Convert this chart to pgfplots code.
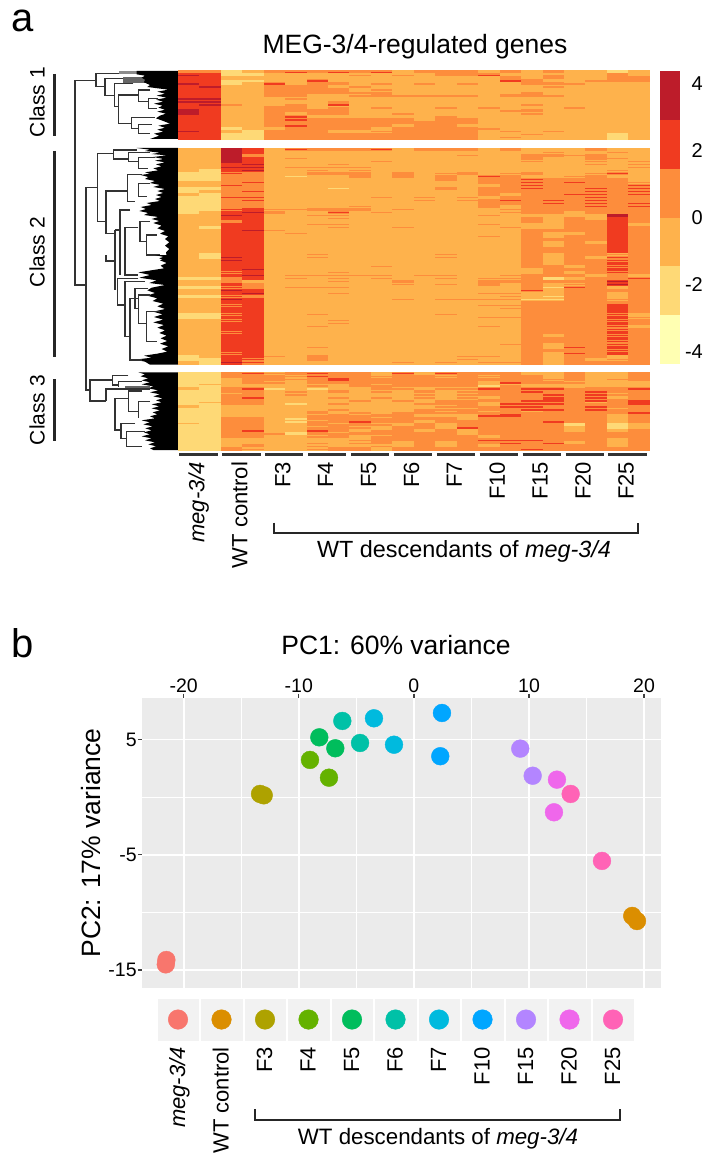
\documentclass[border=0pt]{standalone}
\usepackage{pgfplots}
\usepackage{pgfplotstable}
\usepackage{fontspec}
\setmainfont{Liberation Sans}
\pgfplotsset{compat=1.18}
\newcommand\fs[1]{\fontsize{#1}{#1}\selectfont}
\definecolor{c1}{HTML}{FFFFB2}\definecolor{c2}{HTML}{FED976}\definecolor{c3}{HTML}{FEB24C}
\definecolor{c4}{HTML}{FD8D3C}\definecolor{c5}{HTML}{F03B20}\definecolor{c6}{HTML}{BD1C2A}
\definecolor{h1}{HTML}{F8766D}\definecolor{h2}{HTML}{DB8E00}\definecolor{h3}{HTML}{AEA200}
\definecolor{h4}{HTML}{64B200}\definecolor{h5}{HTML}{00BD5C}\definecolor{h6}{HTML}{00C1A7}
\definecolor{h7}{HTML}{00BADE}\definecolor{h8}{HTML}{00A6FF}\definecolor{h9}{HTML}{B385FF}
\definecolor{h10}{HTML}{EF67EB}\definecolor{h11}{HTML}{FF63B6}
\pgfdeclareplotmark{cell}{\pgfpathrectangle{\pgfpoint{-10.9pt}{-1.7pt}}{\pgfpoint{21.8pt}{3.4pt}}\pgfusepathqfill}
\pgfdeclareplotmark{s0}{\pgfpathrectangle{\pgfpoint{-10.9pt}{-1.7pt}}{\pgfpoint{21.8pt}{3.4pt}}\pgfusepathqfill\pgfsetfillcolor{c4}\pgfpathrectangle{\pgfpoint{-10.9pt}{-0.65pt}}{\pgfpoint{21.8pt}{1.3pt}}\pgfusepathqfill}
\pgfdeclareplotmark{s7}{\pgfpathrectangle{\pgfpoint{-10.9pt}{-1.7pt}}{\pgfpoint{21.8pt}{3.4pt}}\pgfusepathqfill\pgfsetfillcolor{c5}\pgfpathrectangle{\pgfpoint{-10.9pt}{-0.65pt}}{\pgfpoint{21.8pt}{1.3pt}}\pgfusepathqfill}
\pgfdeclareplotmark{s8}{\pgfpathrectangle{\pgfpoint{-10.9pt}{-1.7pt}}{\pgfpoint{21.8pt}{3.4pt}}\pgfusepathqfill\pgfsetfillcolor{c2}\pgfpathrectangle{\pgfpoint{-10.9pt}{-0.65pt}}{\pgfpoint{21.8pt}{1.3pt}}\pgfusepathqfill}
\pgfdeclareplotmark{s9}{\pgfpathrectangle{\pgfpoint{-10.9pt}{-1.7pt}}{\pgfpoint{21.8pt}{3.4pt}}\pgfusepathqfill\pgfsetfillcolor{c6}\pgfpathrectangle{\pgfpoint{-10.9pt}{-0.65pt}}{\pgfpoint{21.8pt}{1.3pt}}\pgfusepathqfill}
% heat levels: 1..6 = the six bands of the colour bar, lowest to highest;
% 0, 7, 8, 9 = cells at level 3, 4, 3, 5 crossed by a thin stripe of level 4, 5, 2, 6
\pgfplotstableread[header=false]{
4 4 2 3 4 7 4 7 4 7 3 4 4 4 3 4 3 4 3 3 2 3
9 5 2 2 3 3 3 3 0 3 0 3 4 4 7 3 3 0 3 3 4 3
5 5 3 3 3 3 3 3 3 3 3 3 3 3 3 4 3 4 3 3 4 4
5 5 8 8 3 3 7 3 3 3 3 3 3 3 3 7 4 3 3 0 4 4
9 5 2 3 7 3 4 4 3 0 3 0 3 0 3 3 4 4 0 3 3 3
5 9 3 3 4 4 4 3 0 3 3 3 3 3 3 3 3 0 3 3 3 3
5 5 3 3 4 4 4 4 3 0 3 3 3 3 3 3 3 3 3 3 3 3
5 5 3 3 4 4 4 4 0 0 3 3 3 3 3 3 0 3 3 3 3 3
5 5 3 3 4 4 3 3 0 4 0 0 0 0 3 4 4 0 3 3 3 3
9 9 3 3 3 0 3 3 3 3 3 3 3 3 3 3 3 3 3 3 3 3
9 9 3 3 3 3 3 0 3 3 3 3 3 3 3 3 3 3 3 3 3 3
5 9 0 3 3 0 3 7 3 3 3 3 3 3 3 3 0 3 3 3 3 3
5 5 3 3 4 4 3 0 3 0 3 3 0 3 0 3 3 3 0 3 3 3
6 5 3 3 4 4 4 4 3 3 3 3 3 3 3 0 4 3 3 3 3 3
6 5 3 3 4 3 4 4 3 3 0 3 3 3 3 3 0 3 3 3 3 3
5 5 3 3 4 7 3 3 3 3 3 3 0 3 3 3 3 3 3 3 3 3
5 5 3 3 4 7 4 4 4 4 4 3 4 4 3 3 3 3 3 3 3 3
5 5 3 3 4 4 4 4 4 4 4 4 4 4 3 3 3 3 3 3 3 3
5 5 3 3 4 7 4 4 4 4 3 4 4 3 3 3 3 3 3 3 3 3
5 5 2 3 3 4 4 4 4 3 4 4 4 4 0 3 3 3 3 3 3 3
9 5 3 2 4 4 4 3 3 0 4 4 4 4 3 0 3 0 3 3 3 3
5 5 2 2 4 4 4 4 4 4 4 4 4 4 3 3 0 3 3 3 2 3
5 5 2 2 4 4 4 4 4 4 4 4 4 4 3 0 3 3 3 3 2 3
}\heatA
\pgfplotstableread[header=false]{
3 3 6 5 3 7 4 4 4 7 3 4 4 4 3 4 3 3 3 4 3 3
3 3 6 5 3 3 3 3 3 3 3 3 3 3 3 3 3 0 3 3 0 3
3 3 6 4 3 3 3 3 3 3 3 3 3 0 3 3 4 4 0 4 3 3
3 3 6 5 3 0 3 3 3 3 3 3 3 3 3 3 4 3 3 4 0 3
3 3 6 5 3 3 3 3 3 0 3 3 3 3 3 3 0 3 3 0 3 0
3 3 5 9 3 3 3 0 3 3 3 3 3 3 3 3 3 3 3 0 3 0
3 3 9 9 3 0 0 0 0 3 3 3 3 3 3 3 3 3 3 3 3 0
3 2 5 9 3 3 0 3 0 3 3 3 3 3 3 3 3 3 3 3 0 3
2 2 7 4 3 3 4 4 4 3 4 3 0 4 3 0 4 3 3 0 7 3
2 2 4 4 3 8 3 3 4 3 4 3 4 3 7 4 3 3 0 4 3 3
2 2 4 4 3 3 3 3 3 3 3 3 4 3 4 4 7 4 4 4 4 3
3 3 4 7 3 3 3 3 3 3 3 3 3 3 4 4 7 4 7 4 4 0
3 3 7 4 3 3 3 3 3 3 3 3 3 3 3 4 7 4 4 4 4 7
2 2 4 4 3 3 3 8 3 3 3 3 4 3 4 4 7 4 4 7 4 7
2 3 4 7 3 3 3 3 3 3 3 3 3 3 4 4 4 4 4 7 4 7
3 2 4 4 3 3 3 3 3 3 3 3 3 3 4 3 4 4 7 7 4 7
2 2 7 7 3 3 3 3 3 0 3 0 3 0 3 4 4 4 4 7 4 4
2 2 4 7 3 3 3 3 3 3 3 0 3 0 4 7 4 7 4 7 4 4
2 2 4 4 3 3 3 3 3 3 3 3 3 3 4 4 4 7 4 7 4 7
2 2 4 4 3 3 3 3 0 3 3 3 3 3 4 3 4 4 4 7 4 7
2 2 7 5 0 0 4 4 4 3 0 3 3 3 3 0 4 4 4 4 4 4
2 3 5 9 4 3 3 7 3 0 3 3 3 3 3 0 4 4 3 4 4 4
3 3 9 5 3 3 0 0 3 3 3 3 3 3 0 3 3 3 3 3 6 4
3 3 5 5 3 3 3 0 3 3 3 3 3 3 3 3 4 3 4 3 5 4
3 3 4 5 3 3 3 3 3 3 3 3 3 3 3 3 4 3 4 4 5 4
3 3 5 5 3 3 0 0 3 3 3 3 3 3 0 3 3 3 4 4 5 3
3 2 5 5 3 3 3 0 3 3 0 3 3 3 3 0 3 3 4 4 5 4
3 3 5 9 0 3 3 3 3 3 3 3 3 3 3 3 4 4 4 4 5 4
3 3 5 5 3 0 3 3 3 3 3 3 3 3 3 3 4 3 3 4 5 4
3 3 5 5 3 3 3 3 3 3 3 3 3 3 0 3 4 3 4 4 5 4
3 3 5 5 3 3 3 3 3 3 3 3 3 3 3 3 4 4 4 4 5 4
3 3 5 5 3 3 3 3 3 3 3 3 3 3 3 3 4 3 4 3 5 4
3 3 5 5 3 3 3 3 3 3 3 3 3 3 3 3 4 3 4 4 5 4
3 3 5 5 3 3 3 3 3 3 3 3 3 3 3 3 4 4 4 4 5 4
3 3 5 5 3 3 3 3 3 3 3 3 3 3 3 3 4 4 4 4 5 4
3 2 5 5 3 3 0 3 3 3 3 3 0 3 3 3 4 3 4 4 0 4
3 2 9 5 3 3 0 3 3 3 3 3 0 3 3 3 4 3 4 3 7 4
3 3 9 5 3 3 3 3 3 3 3 3 3 3 3 3 4 3 4 4 7 4
3 3 5 5 3 3 3 3 3 3 3 3 3 3 3 3 4 3 4 4 5 4
3 3 5 5 3 3 3 3 3 0 3 3 3 3 3 3 4 4 3 4 7 4
3 3 5 9 3 3 3 3 3 3 3 3 3 3 3 3 3 4 4 4 5 4
3 3 7 5 3 3 3 0 3 3 3 3 3 3 3 3 3 4 3 4 7 4
3 3 5 9 3 0 0 0 0 0 3 0 0 3 3 0 4 4 4 3 4 3
2 2 4 5 3 0 3 0 3 0 3 3 0 3 0 0 4 2 3 4 4 7
3 3 4 3 3 3 3 0 3 3 4 3 3 3 4 4 4 4 4 4 9 4
3 3 5 4 3 3 3 3 3 3 0 3 0 3 4 3 4 3 0 4 9 4
2 2 7 4 3 0 0 0 3 3 3 3 3 3 3 3 4 8 7 4 3 4
3 3 9 5 3 3 3 3 3 3 3 3 3 3 3 3 7 3 4 4 4 4
3 3 5 9 3 3 3 0 3 3 3 3 3 3 0 0 3 3 4 4 3 4
2 2 7 4 3 3 3 3 3 3 3 3 3 3 3 0 3 8 4 4 3 4
3 3 9 5 3 3 3 3 3 3 0 3 0 0 0 0 8 8 4 4 0 4
3 3 5 5 3 3 3 3 3 3 3 3 3 3 3 3 4 4 4 4 4 4
3 3 7 5 3 3 3 3 3 3 3 3 3 3 0 0 4 4 4 4 5 4
3 3 5 5 3 3 3 3 3 3 3 3 3 3 3 0 4 4 4 4 5 4
3 3 5 5 3 3 3 3 3 3 3 3 3 3 3 3 4 4 4 4 5 4
2 2 7 5 3 3 0 3 3 3 3 3 0 3 3 3 4 4 4 4 7 3
2 2 5 5 3 3 3 3 3 3 3 3 3 3 0 0 4 4 4 4 5 0
3 3 7 5 3 3 3 0 3 3 3 3 3 3 3 3 4 4 4 4 7 4
3 3 5 5 3 3 3 0 3 3 3 3 3 3 3 3 4 4 4 4 5 4
3 3 5 5 3 3 0 3 3 3 3 3 3 3 0 3 4 4 4 4 7 3
3 3 5 5 3 3 3 3 3 3 3 3 3 3 3 3 4 4 4 4 7 4
3 3 7 5 3 3 3 3 3 3 3 3 3 3 3 3 4 4 4 4 5 4
3 3 5 5 3 3 3 3 3 3 3 3 3 3 3 3 4 3 4 4 7 4
3 3 5 5 3 3 3 3 3 3 3 3 3 3 3 3 4 4 4 4 5 4
3 3 5 5 3 3 3 3 3 3 3 3 3 3 3 3 4 4 4 4 7 4
3 3 5 5 3 3 3 3 3 3 3 3 3 3 3 0 4 3 4 4 7 4
3 3 5 5 3 3 0 3 3 3 3 3 3 3 3 3 4 3 7 4 5 4
3 3 5 5 3 3 3 3 3 3 3 3 3 3 3 3 4 4 4 4 7 4
3 3 7 5 3 3 3 3 3 3 3 3 3 3 3 3 4 3 7 4 5 4
2 3 5 5 0 3 4 3 3 3 3 3 3 0 0 3 4 3 4 4 3 4
2 2 5 7 3 3 4 3 3 3 3 3 3 0 3 3 4 3 4 3 0 4
3 2 9 7 3 3 3 3 3 3 0 3 0 3 0 0 4 3 4 4 4 4
}\heatB
\pgfplotstableread[header=false]{
2 2 4 7 0 4 7 4 4 3 7 3 7 4 4 4 3 3 4 3 3 4
2 2 4 4 4 0 7 4 4 0 4 4 0 4 0 4 4 3 4 3 3 4
2 2 3 4 4 0 4 5 4 4 4 4 4 4 4 4 4 0 4 3 0 4
2 2 3 4 0 3 4 4 4 4 4 4 4 4 3 7 4 4 0 3 3 3
2 8 3 3 3 3 0 3 4 0 4 4 4 4 8 0 3 3 3 3 3 3
3 2 4 7 8 3 8 3 3 4 0 3 0 0 7 4 7 7 0 4 4 7
2 2 4 4 3 0 3 4 3 0 3 4 3 0 4 4 7 4 4 7 4 4
2 2 0 4 3 0 3 3 3 3 3 0 3 0 4 4 4 7 4 7 0 4
2 2 4 7 3 3 3 0 3 0 3 0 3 0 3 4 4 7 4 7 3 4
2 2 4 4 3 3 3 3 0 3 0 3 0 0 4 4 7 5 4 7 4 7
2 8 4 4 3 8 3 0 3 3 3 0 4 4 3 7 7 7 4 0 4 5
3 2 3 3 3 3 3 3 3 3 3 3 0 4 0 7 7 4 4 7 4 4
2 2 3 3 3 3 3 0 3 3 3 0 0 0 4 4 7 7 4 7 0 4
2 2 3 3 3 3 4 3 0 3 0 4 0 4 0 4 0 4 4 4 4 7
2 2 3 3 3 3 0 4 0 4 4 3 3 3 7 5 4 4 4 4 3 4
2 2 4 4 3 8 4 4 4 0 4 4 4 3 4 4 4 4 4 4 3 4
2 2 4 4 3 8 0 4 7 4 4 3 4 4 4 4 4 7 4 4 3 4
8 2 4 4 3 3 4 0 4 0 3 4 3 4 4 4 4 4 2 4 2 3
2 2 4 4 3 3 0 4 0 3 4 4 3 7 4 4 4 4 3 4 2 3
2 2 4 7 3 3 7 4 3 0 4 3 4 3 4 4 4 4 3 4 3 4
2 2 4 4 0 2 4 0 4 4 4 4 4 3 4 4 4 4 4 4 4 4
2 2 4 4 3 3 0 4 3 0 4 4 4 4 3 4 4 4 4 4 4 4
2 2 3 3 3 3 3 3 0 4 4 4 4 4 7 7 7 4 4 4 3 4
2 2 3 3 3 3 0 3 0 4 3 4 3 4 4 7 4 7 3 4 3 4
2 2 3 4 3 3 0 3 3 0 3 4 3 4 3 4 4 4 4 4 3 4
2 2 4 0 3 3 0 4 4 3 4 4 4 4 4 4 7 4 4 4 4 4
}\heatC
\newcommand\heataxis[4]{% top, height, rows, table
\begin{axis}[at={(178pt,-#1pt)},anchor=north west,scale only axis,width=472pt,height=#2pt,
  xmin=0,xmax=22,ymin=0,ymax=#3,y dir=reverse,hide axis,
  scatter/classes={0={mark=s0,c3},1={mark=cell,c1},2={mark=cell,c2},3={mark=cell,c3},4={mark=cell,c4},5={mark=cell,c5},6={mark=cell,c6},7={mark=s7,c4},8={mark=s8,c3},9={mark=s9,c5}}]
\pgfplotsinvokeforeach{0,...,21}{
 \addplot[scatter,only marks,scatter src=explicit symbolic] table[x expr={##1+0.5},y expr={\coordindex+0.5},meta index=##1]{#4};
}
\end{axis}}
\pgfplotsset{treeaxis/.style={scale only axis,hide axis,y dir=reverse,unbounded coords=jump,clip=false,
  every axis plot/.append style={no marks}},
  catlabels/.style={scale only axis,xmin=-0.5,xmax=10.5,ymin=-1,ymax=1,clip=false,
  axis line style={draw=none},ytick=\empty,xtick={0,...,10},major tick length=0pt,xtick pos=bottom,
  xticklabels={\textit{meg-3/4},WT control,F3,F4,F5,F6,F7,F10,F15,F20,F25},
  xticklabel style={rotate=90,anchor=east,font=\fs{22},text height=15pt,text depth=1pt,inner sep=0pt}}}
\begin{document}
\begin{tikzpicture}
\path[use as bounding box] (0,0) rectangle (704pt,-1155pt);
% dendrogram, class 1 and upper class 2 (zoomed-crop coordinates: 3 units = 1 px)
\begin{axis}[treeaxis,at={(70pt,-65pt)},anchor=north west,width=112pt,height=195pt,xmin=0,xmax=336,ymin=0,ymax=585]
\addplot[fill=black!45,draw=none] coordinates {(148,18)(205,18)(205,28)(148,28)};
\addplot[fill=black!60,draw=none] coordinates {(160,35)(225,35)(225,55)(160,55)};
\addplot[fill=black,draw=none] coordinates {(324,18)(200,18)(200,28)(225,32)(215,38)(225,44)(222,52)(240,60)(232,66)(295,74)(262,80)(285,86)(260,92)(290,98)(258,104)(280,110)(252,116)(278,122)(265,128)(285,134)(262,140)(288,146)(270,152)(258,160)(280,168)(300,176)(265,182)(285,188)(262,194)(280,200)(252,206)(268,212)(240,222)(324,222)};
\addplot[fill=black,draw=none] coordinates {(324,249)(200,249)(240,254)(225,258)(270,263)(245,267)(290,271)(250,276)(280,282)(255,287)(285,292)(258,298)(275,304)(250,310)(265,316)(225,322)(240,326)(212,330)(235,336)(225,342)(255,348)(240,354)(270,360)(250,366)(285,372)(262,378)(280,384)(258,390)(275,396)(255,402)(270,408)(230,414)(245,420)(212,426)(228,432)(208,438)(235,444)(222,450)(265,456)(245,462)(268,468)(250,474)(275,482)(262,490)(285,498)(270,506)(295,514)(285,522)(298,532)(285,542)(298,552)(288,562)(290,572)(268,580)(280,585)(324,585)};
\addplot[black!80,line width=1.4pt] coordinates {
(15,585)(15,46)(78,46)(nan,nan)(148,25)(78,25)(78,65)(105,65)(nan,nan)(160,40)(105,40)(105,92)(133,92)(nan,nan)(190,55)(133,55)(133,125)(145,125)(nan,nan)
(205,90)(145,90)(145,175)(185,175)(nan,nan)(255,158)(185,158)(185,190)(205,190)(nan,nan)(245,178)(205,178)(205,205)(240,205)(nan,nan)
(240,75)(205,75)(205,110)(235,110)(nan,nan)(265,100)(235,100)(235,130)(260,130)(nan,nan)
(130,265)(82,265)(82,470)(108,470)(nan,nan)(200,255)(130,255)(130,282)(175,282)(nan,nan)(240,262)(175,262)(175,290)(205,290)(nan,nan)(255,278)(205,278)(205,310)(235,310)(nan,nan)
(48,585)(48,368)(82,368)(nan,nan)
(172,378)(108,378)(108,505)(135,505)(nan,nan)(215,328)(172,328)(172,410)(195,410)(nan,nan)(240,355)(205,355)(205,395)(230,395)(nan,nan)
(180,435)(150,435)(150,585)(nan,nan)(135,495)(135,585)(nan,nan)(135,495)(150,495)(nan,nan)(205,488)(165,488)(165,585)(nan,nan)
(240,470)(210,470)(210,530)(230,530)(nan,nan)(260,510)(230,510)(230,570)(270,570)(nan,nan)
};
\end{axis}
% dendrogram, lower class 2 and class 3
\begin{axis}[treeaxis,at={(70pt,-255pt)},anchor=north west,width=112pt,height=200pt,xmin=0,xmax=336,ymin=0,ymax=600]
\addplot[fill=black,draw=none] coordinates {(324,0)(255,0)(290,8)(270,16)(290,24)(272,32)(282,40)(205,52)(240,60)(208,68)(260,76)(238,84)(285,90)(245,98)(232,106)(255,114)(232,122)(262,130)(248,138)(280,146)(262,154)(285,162)(250,170)(278,178)(252,186)(280,194)(250,202)(282,210)(262,218)(285,226)(268,234)(290,242)(272,250)(292,258)(270,266)(295,274)(275,282)(292,290)(262,296)(222,302)(245,308)(195,314)(225,320)(240,329)(324,329)};
\addplot[fill=black,draw=none] coordinates {(324,352)(205,352)(225,358)(212,364)(235,370)(215,376)(240,382)(215,388)(250,394)(235,400)(265,406)(240,412)(270,418)(250,424)(278,430)(258,436)(275,442)(245,448)(268,454)(245,460)(270,466)(248,472)(262,478)(240,484)(255,490)(215,496)(240,502)(220,508)(248,514)(226,520)(245,526)(222,532)(240,538)(215,544)(245,550)(225,556)(255,562)(235,568)(258,574)(240,580)(250,585)(324,585)};
\addplot[black!60,line width=2pt] coordinates {(165,397)(240,397)};
\addplot[black!80,line width=1.4pt] coordinates {
(15,0)(15,90)(48,90)(nan,nan)(48,0)(48,405)(60,405)(nan,nan)
(135,0)(135,105)(nan,nan)(108,0)(108,18)(135,18)(nan,nan)(150,0)(150,60)(nan,nan)(165,0)(165,60)(205,60)(nan,nan)
(205,70)(143,70)(143,150)(165,150)(nan,nan)(225,80)(165,80)(165,245)(178,245)(nan,nan)(205,130)(180,130)(180,315)(215,315)(nan,nan)
(235,100)(195,100)(195,160)(205,160)(nan,nan)(240,120)(205,120)(205,205)(230,205)(nan,nan)(270,170)(230,170)(230,260)(260,260)(nan,nan)
(128,375)(60,375)(60,438)(108,438)(nan,nan)(175,362)(128,362)(128,390)(145,390)(nan,nan)(215,380)(145,380)(145,397)(nan,nan)
(240,402)(108,402)(108,438)(nan,nan)(175,430)(135,430)(135,525)(153,525)(nan,nan)(215,408)(175,408)(175,470)(205,470)(nan,nan)(240,440)(205,440)(205,490)(nan,nan)
(195,505)(153,505)(153,550)(170,550)(nan,nan)(225,530)(170,530)(170,575)(215,575)(nan,nan)
};
\end{axis}
% heat map
\heataxis{70.7}{68.6}{23}{\heatA}
\heataxis{148}{216.3}{72}{\heatB}
\heataxis{372.3}{78.4}{26}{\heatC}
% colour bar
\begin{axis}[at={(660pt,-70.7pt)},anchor=north west,scale only axis,width=20pt,height=293.6pt,xmin=0,xmax=1,ymin=-4.363,ymax=4.375,
  axis line style={draw=none},xtick=\empty,ytick={-4,-2,0,2,4},major tick length=0pt,ytick pos=right,
  yticklabel style={font=\fs{20},anchor=east,xshift=23pt,inner sep=0pt,/pgf/number format/assume math mode=true}]
\addplot[fill=c1,draw=none] coordinates {(0,-4.363)(1,-4.363)(1,-2.907)(0,-2.907)};
\addplot[fill=c2,draw=none] coordinates {(0,-2.907)(1,-2.907)(1,-1.451)(0,-1.451)};
\addplot[fill=c3,draw=none] coordinates {(0,-1.451)(1,-1.451)(1,0.005)(0,0.005)};
\addplot[fill=c4,draw=none] coordinates {(0,0.005)(1,0.005)(1,1.461)(0,1.461)};
\addplot[fill=c5,draw=none] coordinates {(0,1.461)(1,1.461)(1,2.917)(0,2.917)};
\addplot[fill=c6,draw=none] coordinates {(0,2.917)(1,2.917)(1,4.375)(0,4.375)};
\end{axis}
% heat-map sample names
\begin{axis}[catlabels,at={(178pt,-450.7pt)},anchor=north west,width=472pt,height=3pt,xticklabel style={xshift=-8pt,yshift=2pt}]
\addplot[draw=none] coordinates {(0,0)(10,0)};
\end{axis}
\foreach \i in {0,...,10}{\draw[black!80,line width=2.6pt] ({179.4pt+42.9pt*\i},-454.3pt) -- ++(38.2pt,0);}
% PCA
\begin{axis}[at={(142.3pt,-698pt)},anchor=north west,scale only axis,width=518.7pt,height=290pt,
  xmin=-23.6,xmax=21.47,ymin=-16.55,ymax=8.6,axis background/.style={fill=black!8},
  axis line style={draw=none},xtick={-20,-10,0,10,20},minor xtick={-15,-5,5,15},ytick={-15,-5,5},minor ytick={-10,0},
  grid=both,major grid style={white,line width=1.6pt},minor grid style={white,line width=0.8pt},
  xtick pos=upper,ytick pos=left,tick align=outside,major tick length=4.5pt,minor tick length=0pt,
  tick style={black!75,line width=1.3pt},xticklabel pos=upper,
  tick label style={font=\fs{19.5},/pgf/number format/assume math mode=true,inner sep=1pt},
  every axis plot/.append style={only marks,mark=*,mark size=8.9pt},clip=false]
\addplot[h1] coordinates {(-21.51,-14.12)(-21.56,-14.5)};
\addplot[h3] coordinates {(-13.37,0.28)(-13.05,0.16)};
\addplot[h4] coordinates {(-9.03,3.23)(-7.38,1.69)};
\addplot[h5] coordinates {(-8.22,5.19)(-6.83,4.24)};
\addplot[h6] coordinates {(-6.22,6.61)(-4.68,4.70)};
\addplot[h7] coordinates {(-3.47,6.84)(-1.73,4.55)};
\addplot[h8] coordinates {(2.44,7.30)(2.29,3.55)};
\addplot[h9] coordinates {(9.24,4.21)(10.32,1.86)};
\addplot[h10] coordinates {(12.43,1.52)(12.17,-1.31)};
\addplot[h11] coordinates {(13.62,0.28)(16.34,-5.53)};
\addplot[h2] coordinates {(18.97,-10.3)(19.38,-10.74)};
\end{axis}
% colour key
\begin{axis}[catlabels,at={(156.25pt,-999pt)},anchor=north west,width=478.5pt,height=41pt,xticklabel style={xshift=-7pt}]
\addplot[only marks,mark=square*,mark size=20.2pt,color=black!5] coordinates {(0,0)(1,0)(2,0)(3,0)(4,0)(5,0)(6,0)(7,0)(8,0)(9,0)(10,0)};
\addplot[only marks,mark=*,mark size=9.8pt,h1] coordinates {(0,0)};
\addplot[only marks,mark=*,mark size=9.8pt,h2] coordinates {(1,0)};
\addplot[only marks,mark=*,mark size=9.8pt,h3] coordinates {(2,0)};
\addplot[only marks,mark=*,mark size=9.8pt,h4] coordinates {(3,0)};
\addplot[only marks,mark=*,mark size=9.8pt,h5] coordinates {(4,0)};
\addplot[only marks,mark=*,mark size=9.8pt,h6] coordinates {(5,0)};
\addplot[only marks,mark=*,mark size=9.8pt,h7] coordinates {(6,0)};
\addplot[only marks,mark=*,mark size=9.8pt,h8] coordinates {(7,0)};
\addplot[only marks,mark=*,mark size=9.8pt,h9] coordinates {(8,0)};
\addplot[only marks,mark=*,mark size=9.8pt,h10] coordinates {(9,0)};
\addplot[only marks,mark=*,mark size=9.8pt,h11] coordinates {(10,0)};
\end{axis}
% annotations
\node[font=\fs{40}] at (23pt,-21pt) {a};
\node[font=\fs{40}] at (23pt,-643pt) {b};
\node[font=\fs{26.5}] at (415pt,-47pt) {MEG-3/4-regulated genes};
\node[font=\fs{26.5}] at (396pt,-645pt) {PC1: 60\% variance};
\node[font=\fs{26.5},rotate=90] at (91pt,-843pt) {PC2: 17\% variance};
\node[font=\fs{21},rotate=90] at (37pt,-102pt) {Class 1};
\node[font=\fs{21},rotate=90] at (37pt,-252pt) {Class 2};
\node[font=\fs{21},rotate=90] at (37pt,-410pt) {Class 3};
\draw[black!85,line width=3.4pt] (54.7pt,-74pt) -- (54.7pt,-136pt);
\draw[black!85,line width=3.4pt] (54.7pt,-151pt) -- (54.7pt,-356.7pt);
\draw[black!85,line width=3.4pt] (54.7pt,-379.3pt) -- (54.7pt,-441pt);
\draw[black!85,line width=2pt] (274.3pt,-522.7pt) -- (274.3pt,-532.7pt) -- (638pt,-532.7pt) -- (638pt,-522.7pt);
\draw[black!85,line width=2pt] (255.4pt,-1109pt) -- (255.4pt,-1119.5pt) -- (620pt,-1119.5pt) -- (620pt,-1109pt);
\node[font=\fs{23.4}] at (464pt,-551pt) {WT descendants of \textit{meg-3/4}};
\node[font=\fs{22.3}] at (438pt,-1138.8pt) {WT descendants of \textit{meg-3/4}};
\end{tikzpicture}
\end{document}
